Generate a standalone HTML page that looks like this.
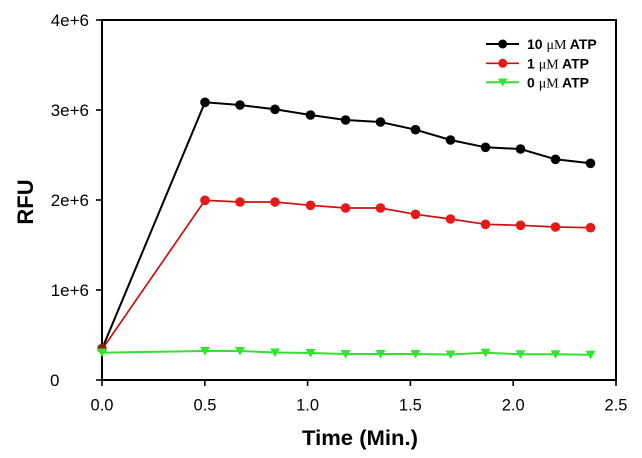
<!DOCTYPE html>
<html><head><meta charset="utf-8"><style>
html,body{margin:0;padding:0;background:#fff;}
svg{display:block;}
text{font-family:"Liberation Sans",Arial,sans-serif;}
</style></head><body>
<svg width="642" height="458" viewBox="0 0 642 458" xmlns="http://www.w3.org/2000/svg">
<rect width="642" height="458" fill="#fff"/>
<!-- frame -->
<rect x="102" y="20" width="514" height="360" fill="none" stroke="#000" stroke-width="2"/>
<!-- y ticks -->
<g stroke="#000" stroke-width="1.6">
<line x1="96" y1="20" x2="102" y2="20"/>
<line x1="96" y1="110" x2="102" y2="110"/>
<line x1="96" y1="200" x2="102" y2="200"/>
<line x1="96" y1="290" x2="102" y2="290"/>
<line x1="96" y1="380" x2="102" y2="380"/>
<line x1="102" y1="380" x2="102" y2="386"/>
<line x1="204.8" y1="380" x2="204.8" y2="386"/>
<line x1="307.6" y1="380" x2="307.6" y2="386"/>
<line x1="410.4" y1="380" x2="410.4" y2="386"/>
<line x1="513.2" y1="380" x2="513.2" y2="386"/>
<line x1="616" y1="380" x2="616" y2="386"/>
</g>
<!-- y labels -->
<g font-size="17" fill="#000" text-anchor="end">
<text x="89" y="26">4e+6</text>
<text x="89" y="116">3e+6</text>
<text x="89" y="206">2e+6</text>
<text x="89" y="296">1e+6</text>
</g>
<text x="50" y="386" font-size="17">0</text>
<!-- x labels -->
<g font-size="16.5" fill="#000" text-anchor="middle">
<text x="102" y="410.5">0.0</text>
<text x="205" y="410.5">0.5</text>
<text x="307.6" y="410.5">1.0</text>
<text x="410.4" y="410.5">1.5</text>
<text x="513.2" y="410.5">2.0</text>
<text x="616" y="410.5">2.5</text>
</g>
<!-- axis titles -->
<text x="360" y="445" font-size="21" font-weight="bold" text-anchor="middle" textLength="116" lengthAdjust="spacingAndGlyphs">Time (Min.)</text>
<text transform="translate(33,202) rotate(-90)" font-size="22" font-weight="bold" text-anchor="middle">RFU</text>

<!-- black series -->
<polyline fill="none" stroke="#000" stroke-width="2" points="102,349 205,102.3 240,105 275,109.3 310.5,115 345.6,120 380.5,122 415.5,129.7 450.5,140 485.5,147.3 520.5,149 555.5,159.3 590.5,163.3"/>
<g fill="#000">
<circle cx="205" cy="102.3" r="4.8"/><circle cx="240" cy="105" r="4.8"/><circle cx="275" cy="109.3" r="4.8"/><circle cx="310.5" cy="115" r="4.8"/><circle cx="345.6" cy="120" r="4.8"/><circle cx="380.5" cy="122" r="4.8"/><circle cx="415.5" cy="129.7" r="4.8"/><circle cx="450.5" cy="140" r="4.8"/><circle cx="485.5" cy="147.3" r="4.8"/><circle cx="520.5" cy="149" r="4.8"/><circle cx="555.5" cy="159.3" r="4.8"/><circle cx="590.5" cy="163.3" r="4.8"/>
</g>
<!-- red series -->
<polyline fill="none" stroke="#cc1010" stroke-width="1.7" points="102,349.5 205,200.3 240,202 275,202 310.5,205.3 345.6,208 380.5,208 415.5,214.3 450.5,219 485.5,224.3 520.5,225.3 555.5,227 590.5,227.7"/>
<g fill="#e81818">
<circle cx="205" cy="200.3" r="4.8"/><circle cx="240" cy="202" r="4.8"/><circle cx="275" cy="202" r="4.8"/><circle cx="310.5" cy="205.3" r="4.8"/><circle cx="345.6" cy="208" r="4.8"/><circle cx="380.5" cy="208" r="4.8"/><circle cx="415.5" cy="214.3" r="4.8"/><circle cx="450.5" cy="219" r="4.8"/><circle cx="485.5" cy="224.3" r="4.8"/><circle cx="520.5" cy="225.3" r="4.8"/><circle cx="555.5" cy="227" r="4.8"/><circle cx="590.5" cy="227.7" r="4.8"/>
</g>
<circle cx="102" cy="348.5" r="4.8" fill="#8a2010"/>
<!-- green series -->
<polyline fill="none" stroke="#33e033" stroke-width="2" points="102,352.7 205,351 240,351 275,352.5 310.5,353 345.6,354 380.5,354 415.5,354 450.5,354.5 485.5,352.7 520.5,354.3 555.5,354.3 590.5,354.7"/>
<g fill="#2ee82e">
<path d="M97,348.5 L107,348.5 L102,357 Z"/>
<path d="M200,347 L210,347 L205,355.5 Z"/>
<path d="M235,347 L245,347 L240,355.5 Z"/>
<path d="M270,348.5 L280,348.5 L275,357 Z"/>
<path d="M305.5,349 L315.5,349 L310.5,357.5 Z"/>
<path d="M340.6,350 L350.6,350 L345.6,358.5 Z"/>
<path d="M375.5,350 L385.5,350 L380.5,358.5 Z"/>
<path d="M410.5,350 L420.5,350 L415.5,358.5 Z"/>
<path d="M445.5,350.5 L455.5,350.5 L450.5,359 Z"/>
<path d="M480.5,348.7 L490.5,348.7 L485.5,357.2 Z"/>
<path d="M515.5,350.3 L525.5,350.3 L520.5,358.8 Z"/>
<path d="M550.5,350.3 L560.5,350.3 L555.5,358.8 Z"/>
<path d="M585.5,350.7 L595.5,350.7 L590.5,359.2 Z"/>
</g>

<!-- legend -->
<line x1="486" y1="44" x2="519" y2="44" stroke="#000" stroke-width="2"/>
<circle cx="502.7" cy="44" r="4.5" fill="#000"/>
<line x1="486" y1="63.3" x2="519" y2="63.3" stroke="#cc1010" stroke-width="1.7"/>
<circle cx="502.7" cy="63.3" r="4.5" fill="#e81818"/>
<line x1="486" y1="82.3" x2="519" y2="82.3" stroke="#33e033" stroke-width="2"/>
<path d="M498,78.5 L507.5,78.5 L502.7,86.5 Z" fill="#2ee82e"/>
<g font-size="14" font-weight="bold" fill="#000">
<text x="527" y="49">10 <tspan font-family="'Liberation Serif',serif" font-weight="normal">μM</tspan> ATP</text>
<text x="527" y="68.3">1 <tspan font-family="'Liberation Serif',serif" font-weight="normal">μM</tspan> ATP</text>
<text x="527" y="87.3">0 <tspan font-family="'Liberation Serif',serif" font-weight="normal">μM</tspan> ATP</text>
</g>
</svg>
</body></html>
